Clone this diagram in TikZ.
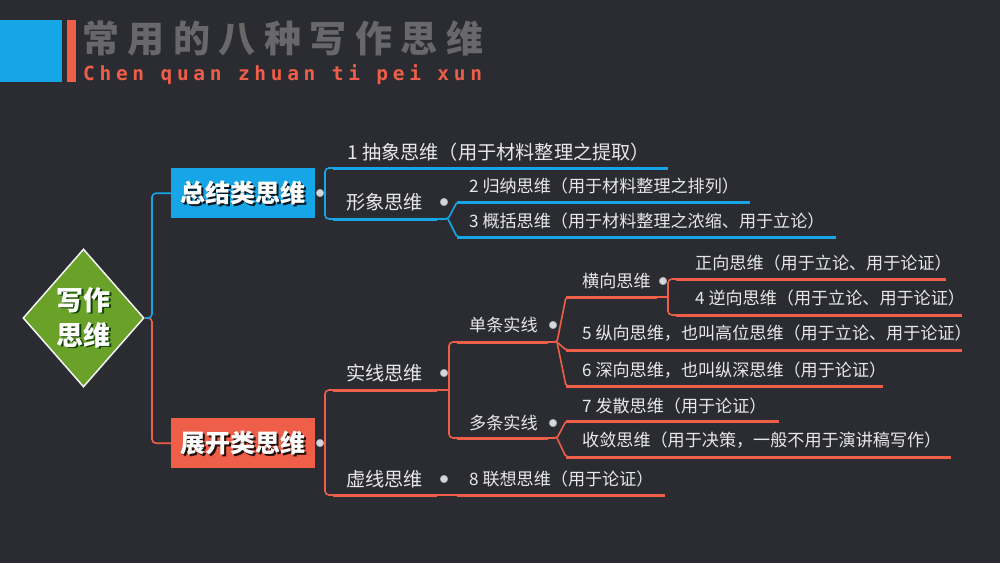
\documentclass[tikz,border=0pt]{standalone}
\usepackage{fontspec}
\setmainfont{Noto Sans CJK SC}
\newfontfamily\titlefont[LetterSpace=23]{Noto Sans CJK SC}
\newfontfamily\subfont[LetterSpace=24]{DejaVu Sans Mono}
\usetikzlibrary{calc,shapes.geometric}
\definecolor{bg}{RGB}{43,44,50}
\definecolor{cblue}{RGB}{22,166,232}
\definecolor{corg}{RGB}{238,94,72}
\definecolor{cgreen}{RGB}{106,161,40}
\definecolor{ctxt}{RGB}{232,232,232}
\definecolor{ctitle}{RGB}{104,104,106}
\definecolor{cdot}{RGB}{214,214,222}
\begin{document}
\begin{tikzpicture}[x=1pt,y=-1pt,
 lv2/.style={anchor=west,inner sep=0,text=ctxt,font=\fontsize{19.2}{21}\selectfont},
 lv3/.style={anchor=west,inner sep=0,text=ctxt,font=\fontsize{17.1}{19}\selectfont},
 dotn/.style={circle,fill=cdot,draw=gray!70,line width=0.6pt,inner sep=0,minimum size=7.5pt},
 thinb/.style={draw=cblue,line width=1.6pt,rounded corners=4pt},
 thino/.style={draw=corg,line width=1.6pt,rounded corners=4pt},
 ulb/.style={draw=cblue,line width=3pt},
 ulo/.style={draw=corg,line width=3pt},
 boxst/.style={minimum width=144pt,minimum height=50pt,inner sep=0,anchor=north west},
 btext/.style={text=white,font=\fontsize{25}{27}\selectfont\bfseries},
 bshadow/.style={text=black,opacity=0.85,font=\fontsize{25}{27}\selectfont\bfseries},
 rtext/.style={text=white,font=\fontsize{27}{29}\selectfont\bfseries},
 rshadow/.style={text=black!80!green,opacity=0.85,font=\fontsize{27}{29}\selectfont\bfseries},
]
\fill[bg] (0,0) rectangle (1000,563);
\useasboundingbox (0,0) rectangle (1000,563);

% header
\fill[cblue] (0,20) rectangle (62,82);
\fill[corg] (67,20) rectangle (76,82);
\node[anchor=base west,inner sep=0,text=ctitle,font=\titlefont\fontsize{37}{40}\selectfont\bfseries] (title) at (82,52.5) {常用的八种写作思维};
\node[anchor=base west,inner sep=0,text=corg,font=\subfont\fontsize{19.5}{22}\selectfont\bfseries] (sub) at (83,80) {Chen quan zhuan ti pei xun};

% root
\node[diamond,draw=white!92!gray,line width=1.5pt,fill=cgreen,minimum width=121pt,minimum height=138pt,inner sep=0] (root) at (83.5,318) {};
\node[rshadow] at (85,301.5) {写作};
\node[rshadow] at (85,336.5) {思维};
\node[rtext] (rt1) at (83.5,300) {写作};
\node[rtext] (rt2) at (83.5,335) {思维};

% main boxes
\node[boxst,fill=cblue] (sumbox) at (171,168) {};
\node[bshadow] at ($(sumbox.center)+(1.5,1.5)$) {总结类思维};
\node[btext] (sumtxt) at (sumbox.center) {总结类思维};
\node[boxst,fill=corg] (expbox) at (171,418) {};
\node[bshadow] at ($(expbox.center)+(1.5,1.5)$) {展开类思维};
\node[btext] (exptxt) at (expbox.center) {展开类思维};

\coordinate (j0) at (152,318);
\draw[thino] (root.east) -- (j0) |- (expbox.west);
\draw[thinb] (root.east) -- (j0) |- (sumbox.west);

% ---------- blue branch
\coordinate (bb) at (325,193);
\draw[thinb] (333,168) -- (325,168) -- (325,219) -- (333,219);
\node[dotn] (d0) at (320,193) {};
\draw[thinb] (d0.east) -- (bb);

\node[lv2] (t1) at (347,152) {1 抽象思维（用于材料整理之提取）};
\draw[ulb] (333,168) -- (668,168);

\node[lv2] (txx) at (346,202) {形象思维};
\node[dotn] (dxx) at (444,202) {};
\draw[ulb] (333,219) -- (437,219);
\coordinate (fxx) at (448,219);
\draw[thinb,rounded corners=2pt] (437,219) -- (fxx) -- (457,202) -- (462,202);
\draw[thinb,rounded corners=2pt] (fxx) -- (457,237) -- (462,237);
\node[lv3] (t2) at (469,186) {2 归纳思维（用于材料整理之排列）};
\draw[ulb] (457,202) -- (750,202);
\node[lv3] (t3) at (469,221) {3 概括思维（用于材料整理之浓缩、用于立论）};
\draw[ulb] (457,237) -- (836,237);

% ---------- orange branch
\coordinate (ob) at (325,443);
\draw[thino] (333,390) -- (325,390) -- (325,495) -- (333,495);
\node[dotn] (d1) at (320,443) {};
\draw[thino] (d1.east) -- (ob);

% 实线思维
\node[lv2] (tsx) at (346,373) {实线思维};
\node[dotn] (dsx) at (444,373) {};
\draw[ulo] (333,390) -- (437,390);
\draw[thino] (437,390) -- (449,390);
\draw[thino] (457,342) -- (449,342) -- (449,438) -- (457,438);

% 单条实线
\node[lv3] (tdt) at (469,325) {单条实线};
\node[dotn] (ddt) at (553,325) {};
\draw[ulo] (457,342) -- (548,342);
\coordinate (fdt) at (557,342);
\draw[thino,rounded corners=2pt] (548,342) -- (fdt) -- (566,297) -- (570,297);
\draw[thino,rounded corners=2pt] (fdt) -- (566,350) -- (570,350);
\draw[thino,rounded corners=2pt] (fdt) -- (566,386) -- (570,386);

% 横向思维
\node[lv3] (thx) at (582,281) {横向思维};
\node[dotn] (dhx) at (663,281) {};
\draw[ulo] (566,297) -- (657,297);
\draw[thino] (657,297) -- (668,297);
\draw[thino] (676,279) -- (668,279) -- (668,315) -- (676,315);
\node[lv3] (tzx) at (695,263) {正向思维（用于立论、用于论证）};
\draw[ulo] (676,279) -- (946,279);
\node[lv3] (t4) at (695,298) {4 逆向思维（用于立论、用于论证）};
\draw[ulo] (676,315) -- (962,315);

\node[lv3] (t5) at (582,333) {5 纵向思维，也叫高位思维（用于立论、用于论证）};
\draw[ulo] (566,350) -- (962,350);
\node[lv3] (t6) at (582,370) {6 深向思维，也叫纵深思维（用于论证）};
\draw[ulo] (566,386) -- (883,386);

% 多条实线
\node[lv3] (tdd) at (469,423) {多条实线};
\node[dotn] (ddd) at (553,423) {};
\draw[ulo] (457,438) -- (548,438);
\coordinate (fdd) at (557,438);
\draw[thino,rounded corners=2pt] (548,438) -- (fdd) -- (566,421) -- (570,421);
\draw[thino,rounded corners=2pt] (fdd) -- (566,457) -- (570,457);
\node[lv3] (t7) at (582,406) {7 发散思维（用于论证）};
\draw[ulo] (566,421) -- (779,421);
\node[lv3] (tsl) at (582,440) {收敛思维（用于决策，一般不用于演讲稿写作）};
\draw[ulo] (566,457) -- (951,457);

% 虚线思维
\node[lv2] (txu) at (346,479) {虚线思维};
\node[dotn] (dxu) at (444,479) {};
\draw[ulo] (333,495) -- (437,495);
\draw[thino] (437,495) -- (457,495);
\node[lv3] (t8) at (469,479) {8 联想思维（用于论证）};
\draw[ulo] (457,495) -- (665,495);
\end{tikzpicture}
\end{document}
